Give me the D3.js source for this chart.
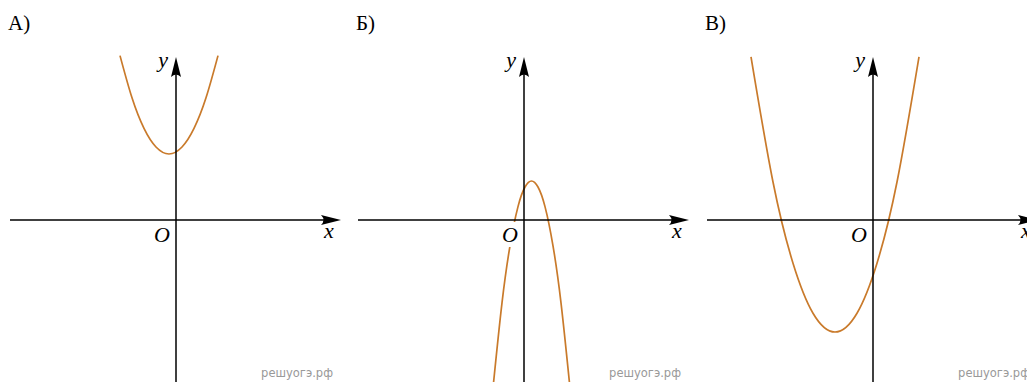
<!DOCTYPE html>
<html>
<head>
<meta charset="utf-8">
<script src="https://cdn.jsdelivr.net/npm/d3@7"></script>
<style>
  body { margin: 0; background: #fff; }
  svg { display: block; }
  .serif { font-family: "Liberation Serif", "Times New Roman", Times, serif; }
</style>
</head>
<body>
<div id="chart"></div>
<script>
// three panels, each a parabola on plain x / y axes
var panelNames = ["А)", "Б)", "В)"];
var axisXLabel = "x";
var axisYLabel = "y";
var originLabel = "O";
var watermark = "решуогэ.рф";

// axis extents in units (1 unit ~ 20px)
var xDomain = [-8.3, 8.25];
var yDomain = [-8.1, 8.15];

// points, [x, y]
var parabolaA = [[-2.8, 8.22], [-2.2, 6.11], [-1.6, 4.58], [-1.0, 3.65], [-0.35, 3.3],
                 [0.3, 3.65], [0.9, 4.58], [1.5, 6.11], [2.1, 8.22]];
var parabolaB = [[-1.52, -8.1], [-1.1, -4.14], [-0.7, -1.29], [-0.3, 0.67], [0.05, 1.65],
                 [0.375, 1.95], [0.7, 1.65], [1.05, 0.67], [1.45, -1.29], [1.85, -4.14], [2.27, -8.1]];
var parabolaC = [[-6.1, 8.16], [-5.0, 1.9], [-4.0, -2.16], [-3.0, -4.66], [-1.9, -5.6],
                 [-0.8, -4.66], [0.2, -2.16], [1.2, 1.9], [2.3, 8.16]];

var curves = [parabolaA, parabolaB, parabolaC];

var svg_width = 1027;
var svg_height = 382;
var originsX = [176, 524, 873]; // layout: where each y axis sits
var curveColor = "#c97a2b";

var svg = d3.select("#chart")
  .append("svg")
    .attr("width", svg_width)
    .attr("height", svg_height);

var line = d3.line().curve(d3.curveNatural);

function arrowPath(tipX, tipY, dir) {
  // dir: "right" or "up"
  var len = 20, notch = 15, half = 5;
  if (dir == "right") {
    return "M" + tipX + "," + tipY +
      "L" + (tipX - len) + "," + (tipY - half) +
      "Q" + (tipX - notch) + "," + tipY + " " + (tipX - len) + "," + (tipY + half) + "Z";
  }
  return "M" + tipX + "," + tipY +
    "L" + (tipX - half) + "," + (tipY + len) +
    "Q" + tipX + "," + (tipY + notch) + " " + (tipX + half) + "," + (tipY + len) + "Z";
}

for (let i = 0; i < panelNames.length; i++) {
  var ox = originsX[i];

  var x = d3.scaleLinear().domain(xDomain).range([ox - 166, ox + 165]);
  var y = d3.scaleLinear().domain(yDomain).range([382, 57]);

  var g = svg.append("g").attr("class", "panel");

  // curve
  line.x(function(d) { return x(d[0]); }).y(function(d) { return y(d[1]); });
  g.append("path")
    .datum(curves[i])
    .attr("d", line)
    .attr("fill", "none")
    .attr("stroke", curveColor)
    .attr("stroke-width", 1.7);

  // O label with white box behind it (it cuts the curve in Б)
  var oText = g.append("text")
    .attr("class", "serif")
    .attr("x", x(0) - 22)
    .attr("y", y(0) + 22)
    .attr("font-style", "italic")
    .attr("font-size", 22)
    .text(originLabel);
  var bb = oText.node().getBBox();
  g.insert("rect", "text")
    .attr("x", bb.x - 1)
    .attr("y", y(0) + 2)
    .attr("width", bb.width + 2)
    .attr("height", bb.y + bb.height - y(0) - 2)
    .attr("fill", "#fff");

  // axes
  g.append("line")
    .attr("x1", x(xDomain[0])).attr("y1", y(0))
    .attr("x2", x(xDomain[1]) - 15).attr("y2", y(0))
    .attr("stroke", "#000").attr("stroke-width", 1.5);
  g.append("path")
    .attr("d", arrowPath(x(xDomain[1]), y(0), "right"))
    .attr("fill", "#000");

  g.append("line")
    .attr("x1", x(0)).attr("y1", y(yDomain[0]))
    .attr("x2", x(0)).attr("y2", y(yDomain[1]) + 15)
    .attr("stroke", "#000").attr("stroke-width", 1.5);
  g.append("path")
    .attr("d", arrowPath(x(0), y(yDomain[1]), "up"))
    .attr("fill", "#000");

  // axis letters
  g.append("text")
    .attr("class", "serif")
    .attr("x", x(xDomain[1]) - 17)
    .attr("y", y(0) + 18)
    .attr("font-style", "italic")
    .attr("font-size", 22)
    .text(axisXLabel);

  g.append("text")
    .attr("class", "serif")
    .attr("x", x(0) - 8)
    .attr("y", 67)
    .attr("text-anchor", "end")
    .attr("font-style", "italic")
    .attr("font-size", 22)
    .text(axisYLabel);

  // panel name
  g.append("text")
    .attr("class", "serif")
    .attr("x", ox - 168)
    .attr("y", 30)
    .attr("font-size", 21)
    .text(panelNames[i]);

  // watermark
  g.append("text")
    .attr("x", ox + 157)
    .attr("y", 377)
    .attr("text-anchor", "end")
    .attr("font-family", "'DejaVu Sans', Verdana, sans-serif")
    .attr("font-size", 11.5)
    .attr("fill", "#999")
    .text(watermark);
}
</script>
</body>
</html>
